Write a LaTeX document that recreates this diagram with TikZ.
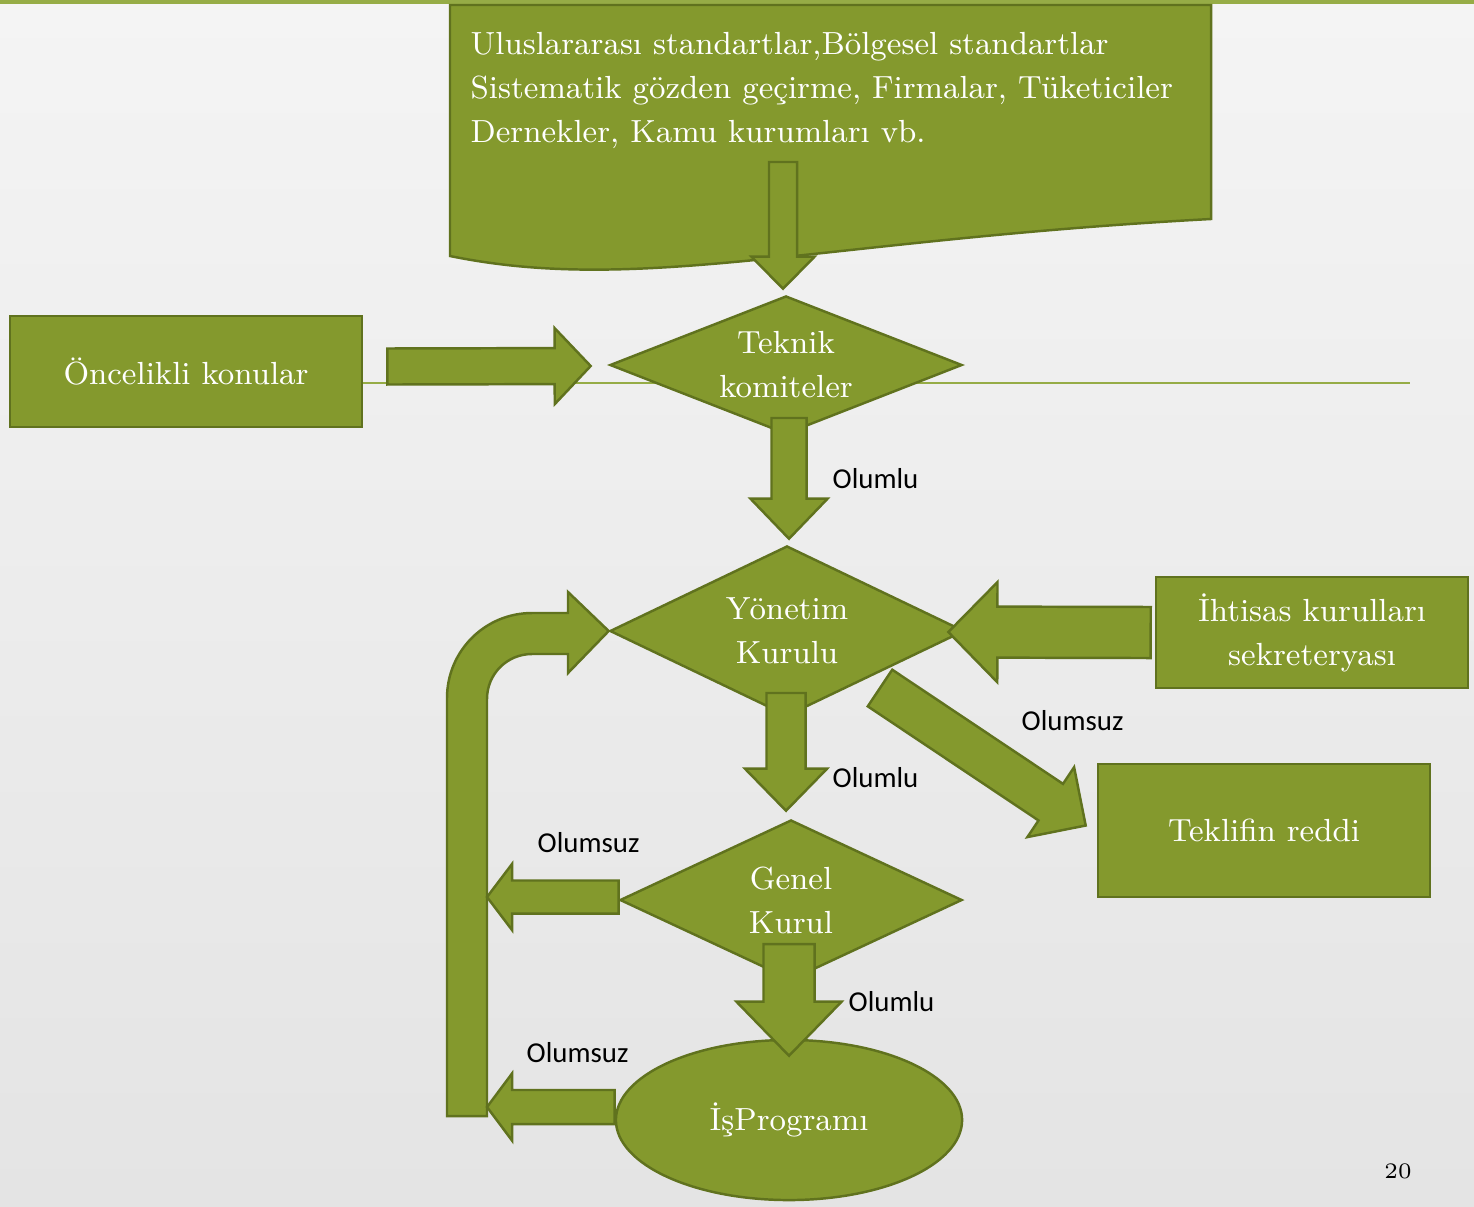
\documentclass[tikz,border=0pt]{standalone}
\usepackage{fontspec}
\newfontfamily\labelfont{Carlito}
\usetikzlibrary{calc,shapes.geometric,positioning}
\definecolor{leaf}{RGB}{132,153,45}
\definecolor{leafdark}{RGB}{96,114,30}
\definecolor{slideline}{RGB}{150,172,70}
\definecolor{bgtop}{RGB}{244,244,244}
\definecolor{bgbot}{RGB}{228,228,228}
\newcommand{\boxfont}{\fontsize{9.1}{12.5}\selectfont}
\tikzset{
	flow/.style={fill=leaf, draw=leafdark, line width=0.7pt, line join=miter},
	greenbox/.style={rectangle, flow, text=white, font=\boxfont, align=center, inner sep=0pt},
	decision/.style={diamond, flow, text=white, font=\boxfont, align=center, inner sep=0pt},
	answer/.style={font=\labelfont\fontsize{8.2}{10}\selectfont, anchor=west, inner sep=0pt}
}
% block arrow: start, tip, half shaft, half head, head length
\newcommand{\blockarrow}[5]{%
	\coordinate (ba-s) at (#1);
	\coordinate (ba-t) at (#2);
	\coordinate (ba-h) at ($(ba-t)!#5!(ba-s)$);
	\draw[flow] ($(ba-s)!#3!90:(ba-t)$) -- ($(ba-h)!#3!90:(ba-t)$)
		-- ($(ba-h)!#4!90:(ba-t)$) -- (ba-t) -- ($(ba-h)!#4!-90:(ba-t)$)
		-- ($(ba-h)!#3!-90:(ba-t)$) -- ($(ba-s)!#3!-90:(ba-t)$) -- cycle;}
\begin{document}
\begin{tikzpicture}[x=0.01cm, y=-0.01cm]
	\useasboundingbox (0,0) rectangle (1474,1206);
	\shade[top color=bgtop, bottom color=bgbot] (0,0) rectangle (1474,1206);
	\draw[slideline, line width=1pt] (0,2) -- (1474,2);
	\draw[slideline, line width=0.6pt] (363,383) -- (1410,383);
	% sources
	\draw[flow] (450,5) -- (1211,5) -- (1211,219) .. controls (820,240) and (640,295) .. (450,256) -- cycle;
	\node[anchor=north west, inner sep=0pt, text=white, font=\boxfont, align=left] (kaynak) at (470,32)
		{Uluslararası standartlar,Bölgesel standartlar\\Sistematik gözden geçirme, Firmalar, Tüketiciler\\Dernekler, Kamu kurumları vb.};
	% boxes
	\node[greenbox, minimum width=3.52cm, minimum height=1.11cm] (oncelik) at (186,371.5) {Öncelikli konular};
	\node[greenbox, minimum width=3.12cm, minimum height=1.11cm] (ihtisas) at (1312,632.5) {İhtisas kurulları\\sekreteryası};
	\node[greenbox, minimum width=3.32cm, minimum height=1.33cm] (ret) at (1264,830.5) {Teklifin reddi};
	\node[decision, shape aspect=2.55, minimum width=3.52cm, minimum height=1.38cm] (teknik) at (786,365) {Teknik\\komiteler};
	\node[decision, shape aspect=2.08, minimum width=3.54cm, minimum height=1.70cm] (yonetim) at (787,631) {Yönetim\\Kurulu};
	\node[decision, shape aspect=2.14, minimum width=3.42cm, minimum height=1.60cm] (genel) at (791,900) {Genel\\Kurul};
	\node[ellipse, flow, text=white, font=\boxfont, inner sep=0pt, minimum width=3.46cm, minimum height=1.60cm] (isprog) at (789,1120) {İşProgramı};
	% loop back to Yonetim Kurulu
	\draw[flow] (447,1116) -- (447,698) .. controls (447,651) and (485,613) .. (532,613) -- (568,613) -- (568,592)
		-- (yonetim.west) -- (568,673) -- (568,654) -- (532,654) .. controls (507,654) and (487,674) .. (487,699) -- (487,1116) -- cycle;
	\coordinate (loopa) at (487,897);
	\coordinate (loopb) at (487,1107);
	% arrows
	\blockarrow{783,162}{$(teknik.north)+(-3,-6)$}{0.14cm}{0.315cm}{0.32cm}
	\blockarrow{$(oncelik.east)+(24,-5)$}{$(teknik.west)+(-18,1)$}{0.18cm}{0.38cm}{0.36cm}
	\blockarrow{789,418}{$(yonetim.north)+(2,-6)$}{0.175cm}{0.385cm}{0.40cm}
	\blockarrow{$(ihtisas.west)+(-4,0)$}{$(yonetim.east)+(-17,1)$}{0.255cm}{0.50cm}{0.49cm}
	\blockarrow{786,693}{$(genel.north)+(-5,-8)$}{0.195cm}{0.41cm}{0.42cm}
	\blockarrow{880,688}{$(ret.west)+(-11,-5)$}{0.22cm}{0.42cm}{0.42cm}
	\blockarrow{789,944}{$(isprog.north)+(0,17)$}{0.255cm}{0.525cm}{0.54cm}
	\blockarrow{$(genel.west)+(0,-3)$}{loopa}{0.165cm}{0.33cm}{0.25cm}
	\blockarrow{$(isprog.west)+(0,-13)$}{loopb}{0.17cm}{0.335cm}{0.25cm}
	% labels
	\node[answer] (l1) at (832,479) {Olumlu};
	\node[answer] (l2) at (832,778) {Olumlu};
	\node[answer] (l3) at (848,1002) {Olumlu};
	\node[answer] (l4) at (1021,721) {Olumsuz};
	\node[answer] (l5) at (537,843) {Olumsuz};
	\node[answer] (l6) at (526,1053) {Olumsuz};
	\node[font=\fontsize{6.3}{8}\selectfont] (sayfa) at (1398,1171) {20};
\end{tikzpicture}
\end{document}
